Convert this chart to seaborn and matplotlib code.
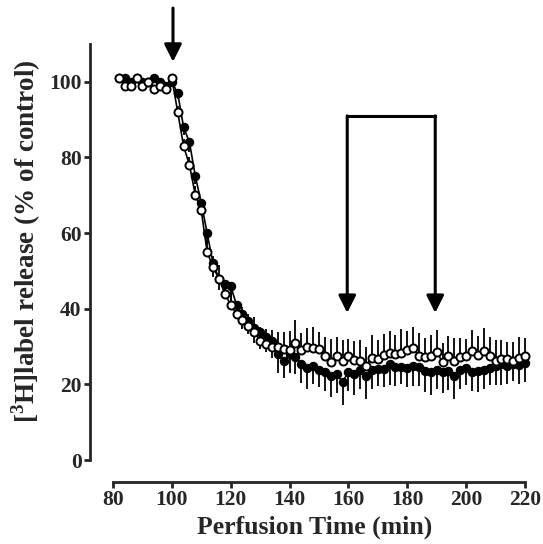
import numpy as np
import matplotlib
matplotlib.use("Agg")
import matplotlib.pyplot as plt
import seaborn as sns
import pandas as pd

# perfusion time (min), one sample every 2 min
time = list(range(82, 222, 2))

# open circles
open_vals = [101, 99, 99, 101, 99, 100, 98, 99, 98, 101,
             92, 83, 78, 70, 66, 55, 51, 48, 44, 41,
             38.6, 37, 35.5, 33.8, 31.6, 30.7, 29.8, 29.8, 29.4, 29,
             31, 29, 30, 29.6, 29.4, 27.6, 25.9, 27.6, 26.3, 27.6,
             26.5, 26.3, 25, 27, 26.7, 27.9, 28.2, 28, 28.2, 29.2,
             29.7, 27.6, 27.2, 27.6, 28.5, 25.9, 27.4, 26.3, 27.2, 27.4,
             28.8, 27.9, 28.8, 27.6, 26.3, 26.7, 26.7, 26.3, 27, 27.4]
open_err = [0.8, 0.6, 0.7, 0.5, 0.8, 0.6, 0.7, 0.5, 0.6, 0.8,
            1.5, 2, 2, 2.5, 2.5, 3, 3, 3.5, 3, 3.5,
            3, 3.5, 3, 4, 3.5, 4, 4.5, 4, 4.5, 5,
            6, 4.5, 5, 5.5, 4.5, 5, 6, 5, 5.5, 4.5,
            5, 5.5, 5, 6, 5, 5.5, 6, 5, 6.5, 5,
            5.5, 6, 5, 5.5, 6, 5, 5.5, 6, 5, 4.5,
            5.5, 5, 6, 5, 5.5, 5, 4.5, 5, 5.5, 5]

# filled circles
filled_vals = [101, 101, 100, 101, 100, 100, 101, 100, 99, 100,
               97, 88, 84, 75, 68, 60, 52, 48, 46.5, 46,
               41, 38.6, 36.8, 35, 33.8, 32.5, 31.6, 28, 26.3, 28,
               27.2, 25.5, 24.4, 25, 23.9, 23.3, 22.1, 22.8, 20.6, 23.3,
               22.8, 23.9, 22.1, 23.9, 24.2, 24.2, 25.4, 24.7, 24.6, 24.4,
               25, 24.5, 23.5, 23.2, 23.9, 23.2, 23.5, 22.1, 23.9, 24.4,
               23.2, 23.5, 23.9, 24.4, 24.9, 25.3, 25, 25.3, 25.1, 25.6]
filled_err = [0.6, 0.8, 0.5, 0.7, 0.6, 0.5, 0.7, 0.6, 0.8, 0.7,
              1.5, 2, 2.5, 2, 3, 3, 3.5, 3, 3.5, 4,
              3.5, 4, 3.5, 4, 4.5, 4, 4.5, 5, 4.5, 5,
              4.5, 5, 5.5, 5, 4.5, 5, 5.5, 5, 6, 5,
              5.5, 5, 6, 5, 4.5, 5, 5.5, 5, 4.5, 5,
              5.5, 5, 5.5, 6, 5, 5.5, 5, 6, 5, 4.5,
              5, 5.5, 5, 4.5, 5, 5.5, 5, 4.5, 5, 5]

df = pd.DataFrame({"time": time, "open": open_vals, "filled": filled_vals})

sns.set_style("ticks")
plt.rcParams["font.family"] = ["Liberation Serif", "DejaVu Serif"]
plt.rcParams["font.weight"] = "bold"
plt.rcParams["mathtext.fontset"] = "custom"
plt.rcParams["mathtext.rm"] = "Liberation Serif:bold"
plt.rcParams["mathtext.bf"] = "Liberation Serif:bold"

fig = plt.figure(figsize=(5.43, 5.44), dpi=100)
ax = fig.add_axes([90 / 543, 62 / 544, 450 / 543, 438 / 544])

# error bars: filled hang down, open go up
ax.errorbar(df["time"], df["filled"], yerr=[filled_err, [0] * len(time)],
            fmt="none", ecolor="black", elinewidth=1.3, capsize=0, zorder=1)
ax.errorbar(df["time"], df["open"], yerr=[[0] * len(time), open_err],
            fmt="none", ecolor="black", elinewidth=1.3, capsize=0, zorder=1)

sns.lineplot(data=df, x="time", y="filled", ax=ax, color="black", lw=1.2,
             marker="o", markersize=5.8, markerfacecolor="black",
             markeredgecolor="black", markeredgewidth=1.0, zorder=2)
sns.lineplot(data=df, x="time", y="open", ax=ax, color="black", lw=1.2,
             marker="o", markersize=5.8, markerfacecolor="white",
             markeredgecolor="black", markeredgewidth=1.4, zorder=3)

ax.set_xlim(72.2, 225.1)
ax.set_ylim(-5.8, 110)
ax.set_xticks(range(80, 221, 20))
ax.set_yticks(range(0, 101, 20))
ax.spines["left"].set_bounds(0, 110)
ax.spines["bottom"].set_bounds(80, 220)
sns.despine(ax=ax)
for s in ["left", "bottom"]:
    ax.spines[s].set_linewidth(2)
ax.tick_params(axis="both", width=2, length=4, labelsize=15.5, pad=2)
for lab in ax.get_xticklabels() + ax.get_yticklabels():
    lab.set_fontweight("bold")

ax.set_xlabel("Perfusion Time (min)", fontsize=18.5, fontweight="bold", labelpad=4)
ax.set_ylabel(r"[$^{3}$H]label release (% of control)", fontsize=19.5,
              fontweight="bold")
ax.yaxis.set_label_coords(-0.105, 0.55)

arrow = dict(arrowstyle="-|>,head_length=0.7,head_width=0.35", color="black",
             lw=2.2, shrinkA=0, shrinkB=0, mutation_scale=15)
# drug application arrow
ax.annotate("", xy=(100.4, 105.3), xytext=(100.4, 119.5), arrowprops=arrow,
            annotation_clip=False)
# bracket with two arrows
ax.plot([159.6, 189.5], [91, 91], color="black", lw=2.2, solid_capstyle="projecting")
ax.annotate("", xy=(159.6, 38.9), xytext=(159.6, 91), arrowprops=arrow)
ax.annotate("", xy=(189.5, 38.9), xytext=(189.5, 91), arrowprops=arrow)

fig.savefig("out.png", dpi=100)
